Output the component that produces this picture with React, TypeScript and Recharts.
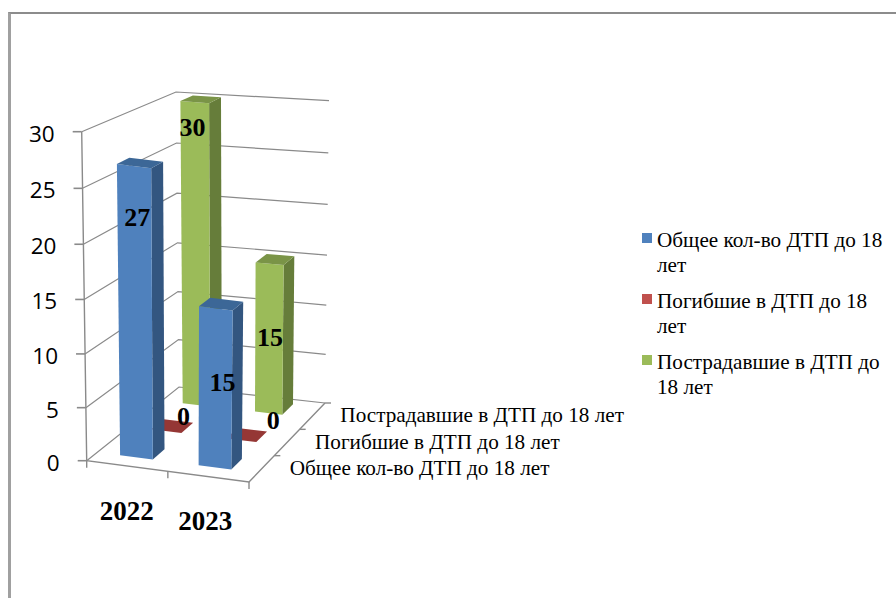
import React from 'react';
import { BarChart, Bar, XAxis, YAxis, ReferenceLine, Legend } from 'recharts';

const YEARS = ['2022', '2023'];
const TOTAL = [27, 15];
const DEAD = [0, 0];
const INJURED = [30, 15];
const Y_TICKS = [0, 5, 10, 15, 20, 25, 30];
const SERIES_NAMES = [
  'Общее кол-во ДТП до 18 лет',
  'Погибшие в ДТП до 18 лет',
  'Пострадавшие в ДТП до 18 лет',
];
const SERIES_KEYS = ['total', 'dead', 'injured'];

const chartData = YEARS.map((year, i) => ({
  year,
  total: TOTAL[i],
  dead: DEAD[i],
  injured: INJURED[i],
}));

const WIDTH = 896;
const HEIGHT = 598;
const PLOT_LEFT = 87;
const PLOT_TOP = 132;
const PLOT_W = 162;
const PLOT_H = 329;
const LEGEND_W = 256;
const GRID = '#8a8a8a';
const SERIF = '"Liberation Serif", serif';

// colours per series: front face, side face, top face, legend swatch
const FACES = [
  { front: '#4F81BD', side: '#335680', top: '#3C6797', swatch: '#4F81BD' },
  { front: '#C0504D', side: '#8C3836', top: '#953735', swatch: '#C0504D' },
  { front: '#9BBB59', side: '#667D3A', top: '#7A9447', swatch: '#9BBB59' },
];

// where the value labels sit, relative to the middle of the bar's front face
const LABEL_NUDGE: Record<string, [number, number][]> = {
  total: [[2, -97], [7, -6]],
  dead: [[17, -15], [32, -20]],
  injured: [[-3, -129], [1, -2]],
};

// the box of the 3D plot on screen: floor corners and top corners
const FLOOR = { fl: [86.7, 460.7], fr: [249, 482], bl: [179, 387], br: [325, 403] };
const ROOF = { fl: [81.7, 131.7], fr: [253, 155], bl: [176, 92], br: [329, 100.7] };

const mix = (a: number, b: number, k: number) => a + (b - a) * k;

const corner = (box: typeof FLOOR, u: number, d: number) => {
  const lx = mix(box.fl[0], box.bl[0], d);
  const ly = mix(box.fl[1], box.bl[1], d);
  const rx = mix(box.fr[0], box.br[0], d);
  const ry = mix(box.fr[1], box.br[1], d);
  return [mix(lx, rx, u), mix(ly, ry, u)];
};

// u: along the years, d: into the depth, t: share of the value axis
const project = (u: number, d: number, t: number) => {
  const a = corner(FLOOR, u, d);
  const b = corner(ROOF, u, d);
  return [mix(a[0], b[0], t), mix(a[1], b[1], t) + 13 * t * (1 - t)];
};

const pts = (list: number[][]) => list.map((p) => `${p[0].toFixed(1)},${p[1].toFixed(1)}`).join(' ');

const makeBarShape = (seriesIndex: number) => (props: any) => {
  const { x, width, height, index } = props;
  const colors = FACES[seriesIndex];
  const key = SERIES_KEYS[seriesIndex];
  const u1 = (x - PLOT_LEFT) / PLOT_W + (seriesIndex === 0 ? 0.005 * index : 0);
  // rows further back look a little narrower
  const u2 = u1 + (width / PLOT_W) * (1 - 0.05 * seriesIndex);
  const d0 = 0.115 + 0.348 * seriesIndex;
  const d1 = d0 + 0.135;
  const t = height / PLOT_H;
  const mid = project((u1 + u2) / 2, d0, t / 2);
  const nudge = LABEL_NUDGE[key][index];
  return (
    <g>
      {t > 0 && (
        <>
          <polygon fill={colors.side} points={pts([project(u2, d0, 0), project(u2, d1, 0), project(u2, d1, t), project(u2, d0, t)])} />
          <polygon fill={colors.front} points={pts([project(u1, d0, 0), project(u2, d0, 0), project(u2, d0, t), project(u1, d0, t)])} />
        </>
      )}
      <polygon fill={colors.top} points={pts([project(u1, d0, t), project(u2, d0, t), project(u2, d1, t), project(u1, d1, t)])} />
      <text
        x={mid[0] + nudge[0]}
        y={mid[1] + nudge[1] + 8.5}
        textAnchor="middle"
        fontFamily={SERIF}
        fontWeight="bold"
        fontSize={26}
        fill="#000"
      >
        {props.payload[key]}
      </text>
    </g>
  );
};

const makeWallShape = (value: number) => () => {
  const t = value / 30;
  const front = project(0, 0, t);
  return (
    <g fill="none" stroke={GRID}>
      <polyline strokeWidth={1.2} points={pts([front, project(0, 1, t), project(1, 1, t)])} />
      <line x1={front[0] - 9} y1={front[1]} x2={front[0]} y2={front[1]} strokeWidth={1.6} />
    </g>
  );
};

const FloorShape = () => {
  const fl = project(0, 0, 0);
  const fr = project(1, 0, 0);
  const br = project(1, 1, 0);
  return (
    <g>
      <g fill="none" stroke={GRID} strokeWidth={1.4}>
        <polyline points={pts([project(0, 0, 1), fl, fr, br])} />
        {[0, 0.5, 1].map((u) => {
          const p = project(u, 0, 0);
          return <line key={u} x1={p[0]} y1={p[1]} x2={p[0]} y2={p[1] + 7} />;
        })}
        {[1 / 3, 2 / 3, 1].map((d) => {
          const p = project(1, d, 0);
          return <line key={d} x1={p[0]} y1={p[1]} x2={p[0] + 6} y2={p[1]} />;
        })}
      </g>
      {SERIES_NAMES.map((name, i) => {
        const p = project(1, (i + 0.5) / 3, 0);
        return (
          <text key={name} x={p[0] + 28} y={p[1] + 6} fontFamily={SERIF} fontSize={21.2} fill="#000">
            {name}
          </text>
        );
      })}
    </g>
  );
};

const YTick = (props: any) => {
  const p = project(0, 0, props.payload.value / 30);
  return (
    <text x={p[0] - 27} y={p[1] + 10} textAnchor="end" fontFamily='"Open Sans", sans-serif' fontSize={22.5} fill="#000">
      {props.payload.value}
    </text>
  );
};

const XTick = (props: any) => {
  const p = project((props.x - PLOT_LEFT) / PLOT_W, 0, 0);
  return (
    <text x={props.x + 0.5} y={p[1] + 54} textAnchor="middle" fontFamily={SERIF} fontWeight="bold" fontSize={27} fill="#000">
      {props.payload.value}
    </text>
  );
};

const LegendBox = () => (
  <div style={{ width: 253, fontFamily: SERIF, fontSize: 21.2, lineHeight: '24.5px', color: '#000' }}>
    {SERIES_NAMES.map((name, i) => (
      <div key={name} style={{ position: 'relative', paddingLeft: 15, marginBottom: 12 }}>
        <span
          style={{
            position: 'absolute',
            left: 0,
            top: 5,
            width: 10,
            height: 10,
            background: FACES[i].swatch,
          }}
        />
        {name}
      </div>
    ))}
  </div>
);

export default function App() {
  return (
    <div style={{ position: 'absolute', left: 0, top: 0, width: WIDTH, height: HEIGHT, overflow: 'hidden', background: '#fff' }}>
      <div
        style={{
          position: 'absolute',
          left: 8,
          top: 12,
          right: 0,
          bottom: 0,
          borderTop: '2px solid #8c8c8c',
          borderLeft: '3px solid #a0a0a0',
        }}
      />
      <BarChart
        width={WIDTH}
        height={HEIGHT}
        data={chartData}
        barSize={33}
        barGap={-33}
        margin={{ top: PLOT_TOP, left: 0, right: WIDTH - PLOT_LEFT - PLOT_W - LEGEND_W, bottom: HEIGHT - PLOT_TOP - PLOT_H - 30 }}
        style={{ position: 'absolute', left: 0, top: 0 }}
      >
        <XAxis dataKey="year" height={30} axisLine={false} tickLine={false} interval={0} padding={{ left: 0, right: 5 }} tick={XTick} />
        <YAxis width={PLOT_LEFT} domain={[0, 30]} ticks={Y_TICKS} axisLine={false} tickLine={false} tick={YTick} />
        {Y_TICKS.map((v) => (
          <ReferenceLine key={v} y={v} zIndex={0} shape={makeWallShape(v)} />
        ))}
        <ReferenceLine y={0} zIndex={0} shape={FloorShape} />
        <Legend
          layout="vertical"
          align="right"
          verticalAlign="top"
          width={LEGEND_W}
          content={LegendBox}
          wrapperStyle={{ left: 642, top: 228, right: 'auto' }}
        />
        {/* back row first so the nearer bars paint over it */}
        <Bar dataKey="injured" name={SERIES_NAMES[2]} fill={FACES[2].swatch} shape={makeBarShape(2)} isAnimationActive={false} />
        <Bar dataKey="dead" name={SERIES_NAMES[1]} fill={FACES[1].swatch} shape={makeBarShape(1)} isAnimationActive={false} />
        <Bar dataKey="total" name={SERIES_NAMES[0]} fill={FACES[0].swatch} shape={makeBarShape(0)} isAnimationActive={false} />
      </BarChart>
    </div>
  );
}
